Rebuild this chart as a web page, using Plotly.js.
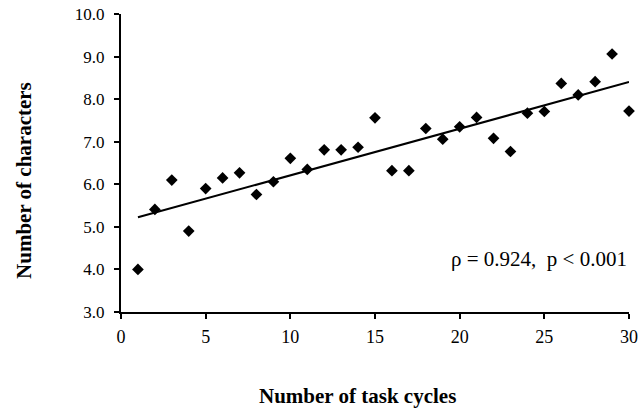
<!DOCTYPE html>
<html>
<head>
<meta charset="utf-8">
<script src="https://cdn.plot.ly/plotly-3.0.1.min.js"></script>
<style>html,body{margin:0;padding:0;background:#fff;}#chart{width:639px;height:408px;}</style>
</head>
<body>
<div id="chart"></div>
<script>
const taskCycles = [1,2,3,4,5,6,7,8,9,10,11,12,13,14,15,16,17,18,19,20,21,22,23,24,25,26,27,28,29,30];
const numCharacters = [4.00,5.41,6.10,4.90,5.90,6.15,6.27,5.76,6.06,6.61,6.35,6.81,6.81,6.87,7.56,6.32,6.32,7.31,7.06,7.35,7.57,7.08,6.77,7.67,7.71,8.37,8.10,8.41,9.06,7.72];
const xTicks = [0,5,10,15,20,25,30];
const yTicks = [3,4,5,6,7,8,9,10];
const yTickLabels = ['3.0','4.0','5.0','6.0','7.0','8.0','9.0','10.0'];
const statText = 'ρ = 0.924,\u00a0\u00a0p < 0.001';

// least-squares trend line from the data
const n = taskCycles.length;
const mx = taskCycles.reduce((a,b)=>a+b,0)/n;
const my = numCharacters.reduce((a,b)=>a+b,0)/n;
let sxy = 0, sxx = 0;
for (let i=0;i<n;i++){ sxy += (taskCycles[i]-mx)*(numCharacters[i]-my); sxx += (taskCycles[i]-mx)**2; }
const slope = sxy/sxx, icpt = my - slope*mx;
const trendX = [taskCycles[0], taskCycles[n-1]];
const trendY = trendX.map(x => icpt + slope*x);

const font = '"Liberation Serif", "Times New Roman", serif';

const traces = [
  {x: trendX, y: trendY, mode: 'lines', line: {color: '#000', width: 2}, hoverinfo: 'skip', cliponaxis: false},
  {x: taskCycles, y: numCharacters, mode: 'markers', marker: {symbol: 'diamond', size: 9, color: '#000'}, cliponaxis: false}
];

const layout = {
  width: 639, height: 408,
  margin: {l: 121, r: 10, t: 14, b: 96},
  paper_bgcolor: '#fff', plot_bgcolor: '#fff',
  showlegend: false,
  font: {family: font, color: '#000', size: 17},
  xaxis: {
    range: [0, 30], tickvals: xTicks, ticktext: xTicks.map(String),
    showgrid: false, zeroline: false, showline: true, linecolor: '#000', linewidth: 2,
    ticks: 'outside', ticklen: 5, tickwidth: 2, tickcolor: '#000',
    tickfont: {family: font, size: 18, color: '#000'}, ticklabelstandoff: 2, fixedrange: true
  },
  yaxis: {
    range: [3, 10], tickvals: yTicks, ticktext: yTickLabels,
    showgrid: false, zeroline: false, showline: true, linecolor: '#000', linewidth: 2,
    ticks: 'outside', ticklen: 5, tickwidth: 2, tickcolor: '#000',
    tickfont: {family: font, size: 17, color: '#000'}, ticklabelstandoff: 6, fixedrange: true
  },
  annotations: [
    {xref: 'paper', yref: 'paper', x: 0.4665, y: -0.282, xanchor: 'center', yanchor: 'middle', showarrow: false,
     text: '<b>Number of task cycles</b>', font: {family: font, size: 21, color: '#000'}},
    {xref: 'paper', yref: 'paper', x: -0.191, y: 0.443, xanchor: 'center', yanchor: 'middle', showarrow: false, textangle: -90,
     text: '<b>Number of characters</b>', font: {family: font, size: 21, color: '#000'}},
    {xref: 'x', yref: 'y', x: 30, y: 4.25, xanchor: 'right', yanchor: 'middle', showarrow: false,
     text: statText, font: {family: font, size: 21, color: '#000'}}
  ]
};

Plotly.newPlot('chart', traces, layout, {displayModeBar: false, staticPlot: true});
</script>
</body>
</html>
